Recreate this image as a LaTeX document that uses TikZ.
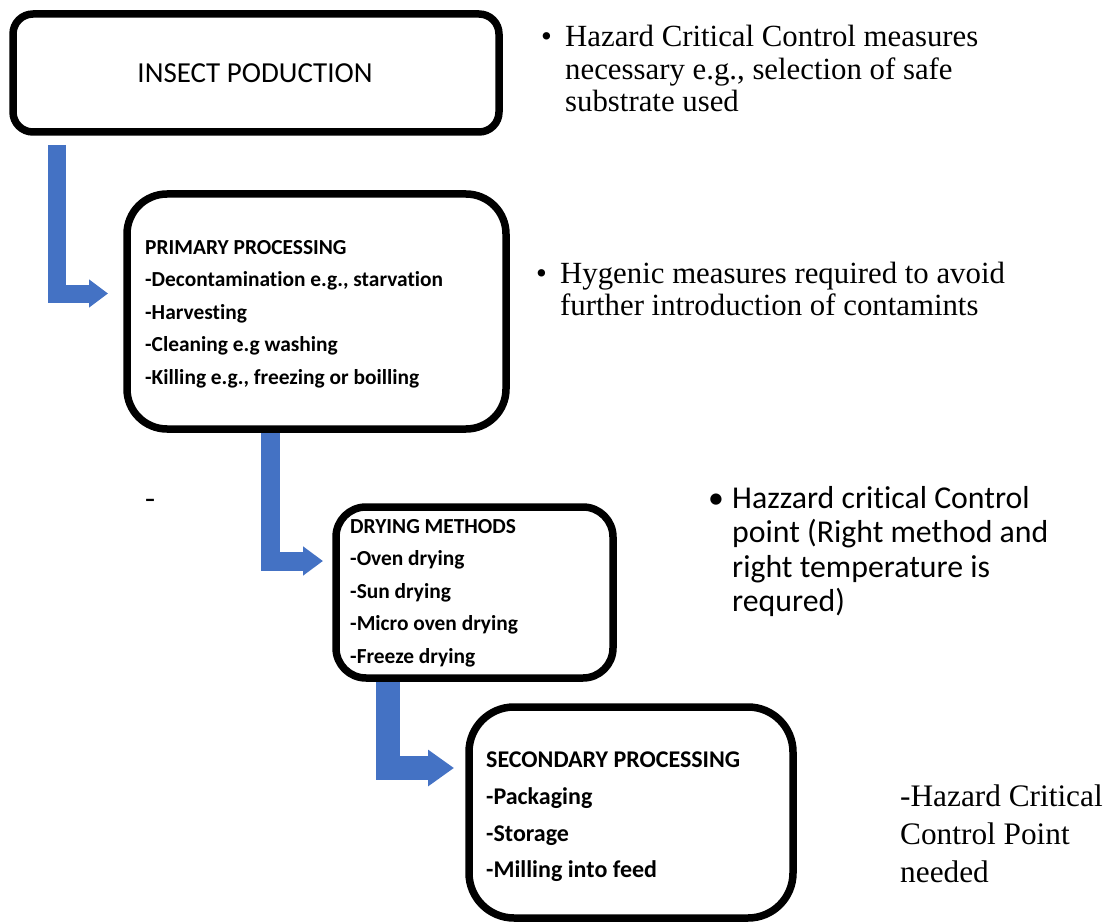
\documentclass[tikz,border=0pt]{standalone}
\usepackage{fontspec}
\setmainfont{Liberation Serif}
\newfontfamily\calib[Ligatures=NoCommon]{Carlito}
\usetikzlibrary{arrows.meta}
\definecolor{arrblue}{HTML}{4472C4}
\begin{document}
\begin{tikzpicture}[x=1pt,y=-1pt,
  box/.style={draw=black, line width=7.5pt, fill=white, inner sep=0},
  lbl/.style={inner sep=0, anchor=base west},
  boxtxt/.style={lbl, font=\calib\bfseries\fontsize{21.4}{25}\selectfont},
  boxtxtb/.style={lbl, font=\calib\bfseries\fontsize{24}{28}\selectfont},
  note/.style={lbl, font=\fontsize{30.8}{34}\selectfont},
  notec/.style={lbl, font=\calib\fontsize{31.8}{36}\selectfont},
  flow/.style={draw=arrblue, line join=miter}
]
\useasboundingbox (0,0) rectangle (1109,923);

% arrows
\coordinate (a1s) at (57,145);  \coordinate (a1e) at (108,293.5);
\coordinate (a2s) at (270.5,425); \coordinate (a2e) at (323,561);
\coordinate (a3s) at (388,675); \coordinate (a3e) at (454,768);
\draw[flow, line width=18pt, -{Triangle[width=27pt,length=19pt]}] (a1s) |- (a1e);
\draw[flow, line width=19pt, -{Triangle[width=28pt,length=20pt]}] (a2s) |- (a2e);
\draw[flow, line width=24pt, -{Triangle[width=35pt,length=26pt]}] (a3s) |- (a3e);

% boxes
\node[box, rounded corners=20pt, minimum width=486pt, minimum height=118pt] (b1) at (256,73) {};
\node[box, rounded corners=40pt, minimum width=379pt, minimum height=235pt] (b2) at (316.5,311.5) {};
\node[box, rounded corners=30pt, minimum width=277pt, minimum height=171pt] (b3) at (474.5,592.5) {};
\node[box, rounded corners=45pt, minimum width=324pt, minimum height=211pt] (b4) at (631,812.5) {};

% box 1 text
\node[inner sep=0, anchor=base, font=\calib\fontsize{29}{34}\selectfont] (t1) at (255,83) {INSECT PODUCTION};

% box 2 text
\node[boxtxt] (t2a) at (145,254) {PRIMARY PROCESSING};
\node[boxtxt] (t2b) at (145,286.5) {-Decontamination e.g., starvation};
\node[boxtxt] (t2c) at (145,319) {-Harvesting};
\node[boxtxt] (t2d) at (145,351.5) {-Cleaning e.g washing};
\node[boxtxt] (t2e) at (145,384) {-Killing e.g., freezing or boilling};

% box 3 text
\node[boxtxt] (t3a) at (350,533) {DRYING METHODS};
\node[boxtxt] (t3b) at (350,565.5) {-Oven drying};
\node[boxtxt] (t3c) at (350,598) {-Sun drying};
\node[boxtxt] (t3d) at (350,630.5) {-Micro oven drying};
\node[boxtxt] (t3e) at (350,663) {-Freeze drying};

% box 4 text
\node[boxtxtb] (t4a) at (486,767) {SECONDARY PROCESSING};
\node[boxtxtb] (t4b) at (486,804) {-Packaging};
\node[boxtxtb] (t4c) at (486,841) {-Storage};
\node[boxtxtb] (t4d) at (486,877) {-Milling into feed};

% stray dash
\node[lbl, font=\fontsize{30}{34}\selectfont] (dash) at (145,507) {-};

% notes
\node[note] (n1bul) at (541,47) {\textbullet};
\node[note] (n1a) at (565,47) {Hazard Critical Control measures};
\node[note] (n1b) at (565,79.5) {necessary e.g., selection of safe};
\node[note] (n1c) at (565,112) {substrate used};

\node[note] (n2bul) at (536,283) {\textbullet};
\node[note] (n2a) at (560,283) {Hygenic measures required to avoid};
\node[note] (n2b) at (560,315) {further introduction of contamints};

\node[notec] (n3bul) at (708,508) {\textbullet};
\node[notec] (n3a) at (732,508) {Hazzard critical Control};
\node[notec] (n3b) at (732,542.5) {point (Right method and};
\node[notec] (n3c) at (732,577) {right temperature is};
\node[notec] (n3d) at (732,611.5) {requred)};

\node[note, font=\fontsize{31.3}{36}\selectfont] (n4a) at (900,806) {-Hazard Critical};
\node[note, font=\fontsize{31.3}{36}\selectfont] (n4b) at (900,844) {Control Point};
\node[note, font=\fontsize{31.3}{36}\selectfont] (n4c) at (900,882) {needed};
\end{tikzpicture}
\end{document}
